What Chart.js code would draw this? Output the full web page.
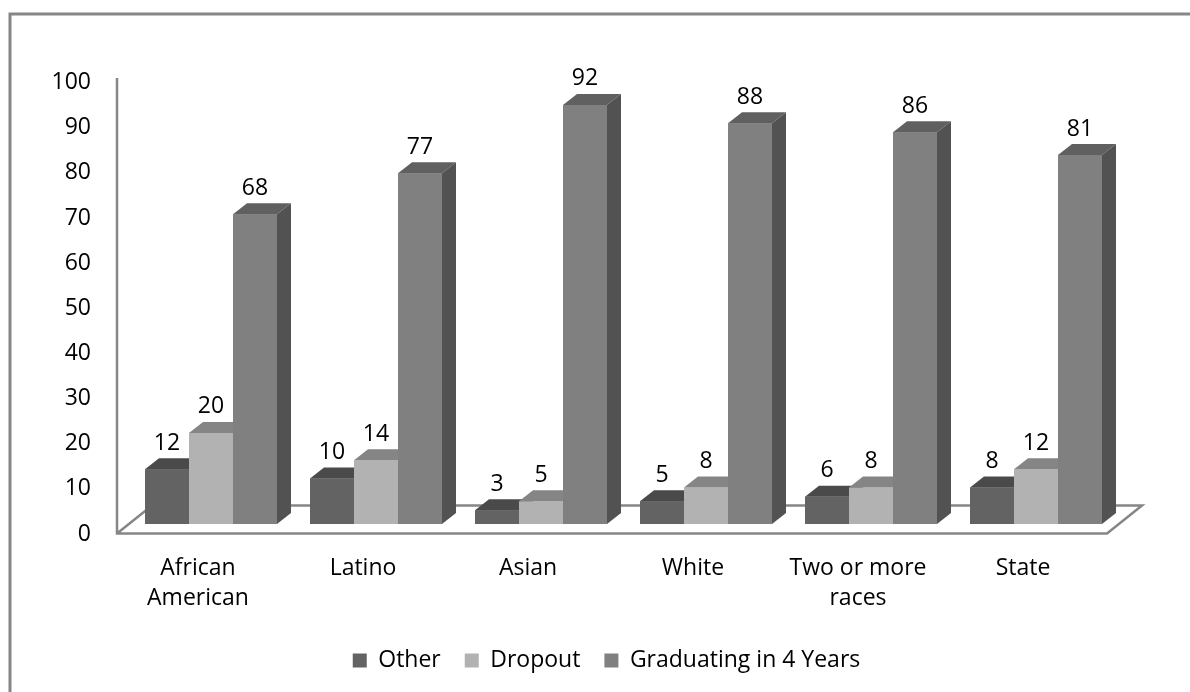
<!DOCTYPE html>
<html>
<head>
<meta charset="utf-8">
<style>
  html, body { margin: 0; padding: 0; background: #fff; }
  #wrap { width: 1190px; height: 692px; }
</style>
<script src="https://cdn.jsdelivr.net/npm/chart.js@4"></script>
</head>
<body>
<div id="wrap"><canvas id="myChart" width="1190" height="692"></canvas></div>
<script>
const categories = [['African', 'American'], 'Latino', 'Asian', 'White', ['Two or more', 'races'], 'State'];
const other = [12, 10, 3, 5, 6, 8];
const dropout = [20, 14, 5, 8, 8, 12];
const graduating = [68, 77, 92, 88, 86, 81];
const yTicks = [0, 10, 20, 30, 40, 50, 60, 70, 80, 90, 100];

const fontName = '"Open Sans", sans-serif';
const fontSize = 23;
const lineGrey = '#868686';
const depthX = 14;
const depthY = 11;

// front, top and side shades of each series
const otherShades = ['#636363', '#4a4a4a', '#4a4a4a'];
const dropoutShades = ['#b2b2b2', '#858585', '#858585'];
const gradShades = ['#808080', '#606060', '#525252'];

function shape(ctx, points, color) {
    ctx.fillStyle = color;
    ctx.beginPath();
    points.forEach((p, i) => i ? ctx.lineTo(p[0], p[1]) : ctx.moveTo(p[0], p[1]));
    ctx.closePath();
    ctx.fill();
}

// outer frame, floor and value axis line sit behind the bars
const floorPlugin = {
    id: 'floor',
    beforeDatasetsDraw(chart) {
        const ctx = chart.ctx;
        const area = chart.chartArea;
        const y = chart.scales.y;
        const base = y.getPixelForValue(0);
        const left = area.left - 11.5;
        const right = area.right - 11.5;
        const front = base + 9.5;
        const back = base - 18.5;

        ctx.save();
        ctx.strokeStyle = lineGrey;
        ctx.lineWidth = 3;
        ctx.beginPath();
        ctx.moveTo(10, 692);
        ctx.lineTo(10, 14);
        ctx.lineTo(1190, 14);
        ctx.stroke();

        ctx.lineWidth = 2.5;
        ctx.beginPath();
        ctx.moveTo(left, y.getPixelForValue(100) + 9.5);
        ctx.lineTo(left, front);
        ctx.lineTo(right, front);
        ctx.lineTo(right + 35, back);
        ctx.lineTo(left + 35, back);
        ctx.lineTo(left, front);
        ctx.stroke();
        ctx.restore();
    }
};

// boxes are drawn left to right here so that each one hides the side of the previous
const boxPlugin = {
    id: 'boxes',
    afterDatasetsDraw(chart) {
        const ctx = chart.ctx;
        ctx.save();
        chart.data.datasets.forEach((ds, i) => {
            const meta = chart.getDatasetMeta(i);
            meta.data.forEach(bar => {
                const l = bar.x - bar.width / 2;
                const r = bar.x + bar.width / 2;
                shape(ctx, [[l, bar.y], [l + depthX, bar.y - depthY], [r + depthX, bar.y - depthY], [r, bar.y]], ds.shades[1]);
                shape(ctx, [[r, bar.y], [r + depthX, bar.y - depthY], [r + depthX, bar.base - depthY], [r, bar.base]], ds.shades[2]);
                bar.draw(ctx);
            });
        });

        ctx.fillStyle = '#000';
        ctx.font = fontSize + 'px ' + fontName;
        ctx.textAlign = 'center';
        ctx.textBaseline = 'middle';
        chart.data.datasets.forEach((ds, i) => {
            chart.getDatasetMeta(i).data.forEach((bar, k) => {
                ctx.fillText(ds.data[k], bar.x, bar.y - 26);
            });
        });
        ctx.restore();
    }
};

function series(label, data, shades) {
    return { label: label, data: data, shades: shades, backgroundColor: shades[0], borderWidth: 0, yAxisID: 'y' };
}

new Chart(document.getElementById('myChart').getContext('2d'), {
    type: 'bar',
    data: {
        labels: categories,
        datasets: [
            series('Other', other, otherShades),
            series('Dropout', dropout, dropoutShades),
            series('Graduating in 4 Years', graduating, gradShades)
        ]
    },
    options: {
        responsive: false,
        animation: false,
        maintainAspectRatio: false,
        barPercentage: 1,
        categoryPercentage: 0.8,
        layout: { padding: { left: 23, right: 0, top: 68.5, bottom: 10 } },
        plugins: {
            tooltip: { enabled: false },
            legend: {
                position: 'bottom',
                labels: {
                    boxWidth: 14,
                    boxHeight: 14,
                    padding: 24,
                    color: '#000',
                    font: { family: fontName, size: fontSize }
                }
            }
        },
        scales: {
            x: {
                grid: { display: false },
                border: { display: false },
                afterFit(scale) { scale.height = 91.5; },
                ticks: {
                    autoSkip: false,
                    maxRotation: 0,
                    labelOffset: -13,
                    padding: 12.5,
                    color: '#000',
                    font: { family: fontName, size: fontSize, lineHeight: 1.3 }
                }
            },
            // bars sit on this one, its zero is above the front edge of the floor
            y: { display: false, min: -2.09, max: 100 },
            yLabels: {
                position: 'left',
                min: -0.44,
                max: 102.55,
                grid: { display: false },
                border: { display: false },
                afterBuildTicks(scale) { scale.ticks = yTicks.map(v => ({ value: v })); },
                afterFit(scale) { scale.width = 105.5; },
                ticks: {
                    padding: 29.5,
                    labelOffset: 2.5,
                    color: '#000',
                    font: { family: fontName, size: fontSize }
                }
            },
            // empty margin on the right of the plot
            yMargin: {
                position: 'right',
                grid: { display: false },
                border: { display: false },
                ticks: { display: false },
                afterFit(scale) { scale.width = 71.5; }
            }
        }
    },
    plugins: [floorPlugin, boxPlugin]
});
</script>
</body>
</html>
